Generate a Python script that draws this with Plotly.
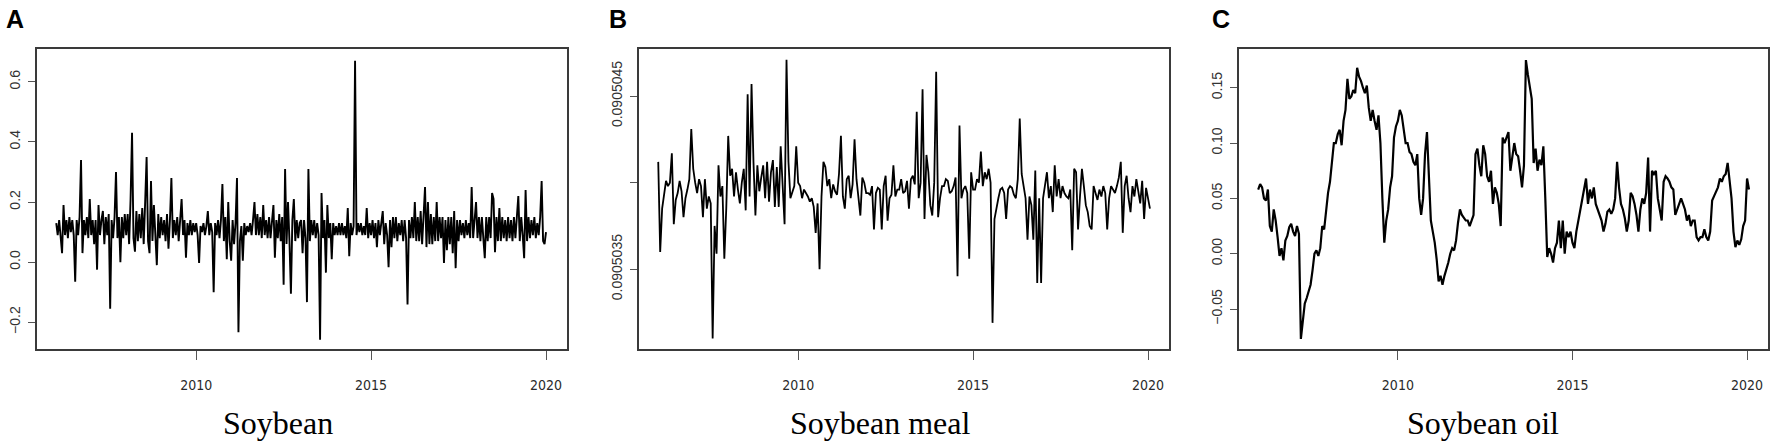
import numpy as np
import plotly.graph_objects as go

W, H = 1772, 445

def px(x):
    return x / W

def py(y):
    return 1 - y / H

# Soybean, 24 obs per year starting 2006 (one line per year)
soybean = [
    0.13, 0.09, 0.14, 0.08, 0.03, 0.19, 0.09, 0.14, 0.08, 0.15, 0.10, 0.14, 0.09, -0.065, 0.14, 0.09, 0.15, 0.34, 0.03, 0.14, 0.09, 0.15, 0.08, 0.21,
    0.09, 0.14, 0.06, 0.14, -0.025, 0.19, 0.09, 0.14, 0.17, 0.06, 0.15, 0.09, 0.16, -0.155, 0.14, 0.08, 0.15, 0.30, 0.08, 0.15, 0.00, 0.15, 0.08, 0.16,
    0.09, 0.16, 0.06, 0.21, 0.43, 0.08, 0.035, 0.17, 0.07, 0.16, 0.08, 0.18, 0.06, 0.20, 0.35, 0.07, 0.03, 0.27, 0.07, 0.19, 0.08, -0.01, 0.16, 0.08,
    0.15, 0.09, 0.14, 0.07, 0.16, 0.045, 0.14, 0.28, 0.08, 0.14, 0.09, 0.15, 0.07, 0.13, 0.21, 0.09, 0.14, 0.015, 0.13, 0.09, 0.14, 0.09, 0.13, 0.10,
    0.13, 0.09, -0.003, 0.12, 0.10, 0.13, 0.09, 0.12, 0.17, 0.09, 0.13, 0.10, -0.10, 0.13, 0.09, 0.14, 0.08, 0.14, 0.26, 0.07, 0.15, 0.01, 0.20, 0.07,
    0.005, 0.14, 0.06, 0.13, 0.28, -0.233, 0.07, 0.12, 0.005, 0.13, 0.09, 0.12, 0.10, 0.13, 0.09, 0.14, 0.20, 0.09, 0.16, 0.09, 0.15, 0.08, 0.19, 0.09,
    0.14, 0.08, 0.15, 0.08, 0.14, 0.19, 0.015, 0.14, 0.08, 0.16, 0.07, 0.15, -0.075, 0.31, 0.06, 0.20, 0.07, -0.105, 0.14, 0.21, 0.07, 0.14, 0.08, 0.13,
    0.14, 0.03, 0.14, 0.08, -0.133, 0.31, 0.07, 0.14, 0.09, 0.14, 0.08, 0.13, 0.09, -0.258, 0.23, 0.08, 0.14, -0.035, 0.19, 0.08, 0.13, 0.01, 0.13, 0.09,
    0.12, 0.09, 0.13, 0.09, 0.13, 0.09, 0.12, 0.08, 0.18, 0.02, 0.13, 0.09, 0.12, 0.67, 0.09, 0.13, 0.10, 0.13, 0.09, 0.12, 0.09, 0.18, 0.08, 0.13,
    0.09, 0.14, 0.08, 0.13, 0.05, 0.14, 0.09, 0.14, 0.17, 0.06, 0.13, 0.09, -0.017, 0.14, 0.05, 0.15, 0.08, 0.15, 0.07, 0.13, 0.09, 0.14, 0.07, 0.14,
    0.08, -0.141, 0.14, 0.08, 0.15, 0.08, 0.20, 0.07, 0.15, 0.07, 0.17, 0.06, 0.18, 0.25, 0.05, 0.20, 0.06, 0.16, 0.06, 0.15, 0.07, 0.20, 0.07, 0.15,
    0.08, 0.15, -0.003, 0.14, 0.04, 0.15, 0.06, 0.15, 0.03, 0.17, -0.02, 0.14, 0.07, 0.14, 0.09, 0.13, 0.08, 0.14, 0.09, 0.13, 0.08, 0.25, 0.08, 0.14,
    0.20, 0.08, 0.15, 0.07, 0.15, 0.08, 0.013, 0.15, 0.07, 0.15, 0.08, 0.23, 0.21, 0.033, 0.15, 0.07, 0.18, 0.07, 0.15, 0.08, 0.14, 0.07, 0.15, 0.08,
    0.14, 0.07, 0.15, 0.08, 0.14, 0.22, 0.07, 0.15, 0.09, 0.013, 0.24, 0.07, 0.15, 0.08, 0.14, 0.09, 0.15, 0.08, 0.13, 0.09, 0.15, 0.27, 0.07, 0.06,
    0.10,
]

# Soybean meal, 18 obs per year starting 2006,
# read as offsets from 0.0905040 in units of 1e-7
meal_dev = [
    1.2, -4.0, -1.5, -0.8, 0.1, -0.2, 0.0, 1.7, -2.4, -1.0, -0.6, 0.1, -0.5, -2.0, -0.9, -0.4, 0.2, 3.1,
    0.8, 0.0, -0.6, 0.2, -0.2, -2.0, 0.2, -1.5, -0.8, -1.2, -9.0, -2.5, -4.1, 1.0, -0.8, -0.2, -4.4, -1.5,
    2.7, 0.4, 0.8, -0.8, 0.6, -0.4, -1.2, 0.0, 0.8, -1.6, 5.1, -0.8, 5.7, 1.2, -1.9, 1.0, -0.5, 0.3,
    1.0, -0.9, 1.2, -1.1, 0.6, 1.3, -1.4, 0.9, -1.4, 2.1, -0.3, -2.4, 7.1, 1.2, -0.9, -0.5, -0.2, 2.1,
    0.0, -0.2, -0.9, -0.4, -0.6, -0.8, -1.1, -0.9, -1.4, -2.9, -1.2, -5.0, -0.8, 1.2, 0.9, -0.2, 0.2, -0.9,
    -0.1, -0.5, -0.7, 0.5, 2.7, -0.8, -1.5, 0.2, 0.4, -0.9, -0.1, 2.5, 0.2, -0.9, -1.9, 0.3, 0.0, -0.6,
    -0.6, -0.7, -0.2, -2.7, -0.6, -0.3, -0.4, -2.7, -0.2, 0.4, -2.2, -0.9, -0.7, 1.0, -0.8, -0.4, -0.4, 0.2,
    -0.6, -0.5, 0.1, -1.5, 0.2, 0.4, -0.1, 4.1, -0.9, 0.0, 5.4, -2.1, 1.6, 0.6, -1.3, -1.9, 0.0, 6.4,
    -2.0, -0.9, -0.2, -0.2, 0.2, 0.1, -0.6, -0.5, -0.2, 0.3, -5.4, 3.3, -0.9, -0.4, -0.2, -0.6, -4.4, 0.6,
    -0.4, -0.4, 0.2, 0.0, 1.8, -0.2, 0.6, 0.2, 0.8, 0.0, -8.1, -2.1, -1.4, -0.9, -0.4, -0.3, -0.6, -2.1,
    -0.4, -0.2, -0.3, -0.7, -0.9, 0.2, 3.7, 0.5, -0.2, -0.9, -3.3, -0.8, -1.3, -3.3, 0.7, -5.8, -0.9, -5.8,
    -0.9, -0.2, 0.6, -0.9, -0.2, -1.7, 1.0, -0.8, 0.2, -0.9, -0.2, -0.6, -0.8, -0.9, -0.4, -3.9, 0.8, 0.6,
    -2.7, -0.8, 0.8, -0.2, -1.3, -1.7, -2.5, -2.7, -0.2, -0.6, -1.0, -0.4, -0.8, -0.2, -0.6, -2.7, -0.9, -0.2,
    -0.4, -0.6, -0.2, 0.3, 1.2, -2.9, -0.2, 0.4, -0.9, -1.7, -0.2, -0.8, 0.2, -0.6, -1.2, 0.1, -2.1, -0.3,
    -0.9, -1.5,
]

# Soybean oil, 18 obs per year starting 2006
soy_oil = [
    0.058, 0.063, 0.060, 0.050, 0.048, 0.058, 0.025, 0.020, 0.040, 0.030, 0.015, -0.002, 0.005, -0.006, 0.012, 0.016, 0.024, 0.027,
    0.020, 0.016, 0.025, 0.018, -0.077, -0.060, -0.045, -0.040, -0.033, -0.028, -0.015, 0.000, 0.003, -0.002, 0.005, 0.025, 0.022, 0.040,
    0.055, 0.065, 0.080, 0.100, 0.100, 0.108, 0.112, 0.098, 0.120, 0.130, 0.158, 0.140, 0.142, 0.148, 0.145, 0.168, 0.160, 0.156,
    0.150, 0.145, 0.152, 0.132, 0.120, 0.130, 0.120, 0.112, 0.125, 0.100, 0.050, 0.010, 0.030, 0.040, 0.060, 0.070, 0.105, 0.115,
    0.120, 0.130, 0.125, 0.110, 0.100, 0.100, 0.092, 0.090, 0.083, 0.080, 0.090, 0.050, 0.035, 0.050, 0.090, 0.110, 0.070, 0.030,
    0.020, 0.010, -0.005, -0.025, -0.020, -0.028, -0.020, -0.015, -0.008, 0.000, 0.005, 0.003, 0.012, 0.028, 0.040, 0.035, 0.032, 0.030,
    0.030, 0.025, 0.030, 0.035, 0.090, 0.095, 0.080, 0.070, 0.098, 0.090, 0.070, 0.065, 0.075, 0.045, 0.060, 0.055, 0.045, 0.025,
    0.105, 0.100, 0.105, 0.110, 0.075, 0.090, 0.100, 0.090, 0.088, 0.075, 0.060, 0.080, 0.175, 0.162, 0.150, 0.140, 0.082, 0.095,
    0.075, 0.085, 0.080, 0.097, 0.050, -0.003, 0.005, 0.000, -0.008, 0.005, 0.010, 0.030, 0.005, 0.030, 0.000, 0.020, 0.015, 0.020,
    0.010, 0.005, 0.020, 0.030, 0.040, 0.050, 0.060, 0.068, 0.045, 0.058, 0.050, 0.060, 0.045, 0.040, 0.035, 0.030, 0.020, 0.027,
    0.038, 0.040, 0.036, 0.040, 0.050, 0.083, 0.060, 0.045, 0.040, 0.032, 0.020, 0.030, 0.055, 0.052, 0.045, 0.035, 0.020, 0.040,
    0.050, 0.045, 0.055, 0.087, 0.020, 0.075, 0.072, 0.075, 0.050, 0.040, 0.030, 0.065, 0.070, 0.068, 0.065, 0.060, 0.058, 0.035,
    0.040, 0.045, 0.050, 0.045, 0.040, 0.030, 0.035, 0.025, 0.030, 0.030, 0.015, 0.012, 0.015, 0.015, 0.022, 0.015, 0.012, 0.020,
    0.048, 0.052, 0.057, 0.060, 0.068, 0.065, 0.070, 0.072, 0.082, 0.068, 0.050, 0.020, 0.006, 0.012, 0.008, 0.013, 0.025, 0.030,
    0.068, 0.058,
]

year_ticks = [2010, 2015, 2020]
titles = ["Soybean", "Soybean meal", "Soybean oil"]
letters = ["A", "B", "C"]

meal = 0.0905040 + np.array(meal_dev) * 1e-7
series = [
    (2006 + np.arange(len(soybean)) / 24, soybean, 1.9),
    (2006 + np.arange(len(meal)) / 18, meal, 1.8),
    (2006 + np.arange(len(soy_oil)) / 18, soy_oil, 2.2),
]

# panel boxes in pixels (left, right); top/bottom shared
boxes = [(37, 567), (639, 1169), (1239, 1768)]
top, bottom = 49, 349
title_x = [278, 880, 1483]
letter_x = [15, 618, 1221]

y_cfg = [
    dict(range=[-0.289, 0.709], tickvals=[-0.2, 0.0, 0.2, 0.4, 0.6], tickformat=".1f"),
    dict(range=[0.0905040 - 9.61e-7, 0.0905040 + 7.72e-7],
         tickvals=[0.0905035, 0.0905040, 0.0905045],
         ticktext=["0.0905035", "", "0.0905045"]),
    dict(range=[-0.0861, 0.185], tickvals=[-0.05, 0.0, 0.05, 0.10, 0.15], tickformat=".2f"),
]

fig = go.Figure()
frame = dict(showline=True, mirror=True, linecolor="#3a3a3a", linewidth=1.5,
             showgrid=False, zeroline=False, ticks="outside", tickcolor="#555")

for i, (x, y, lw) in enumerate(series):
    n = "" if i == 0 else str(i + 1)
    fig.add_trace(go.Scatter(x=x, y=y, mode="lines", line=dict(color="black", width=lw),
                             xaxis="x" + n, yaxis="y" + n, showlegend=False, hoverinfo="skip"))
    l, r = boxes[i]
    fig.layout["xaxis" + n] = dict(
        frame, domain=[px(l), px(r)], anchor="y" + n, range=[2005.45, 2020.6],
        tickvals=year_ticks, ticklen=9, ticklabelstandoff=13,
        tickfont=dict(family="Liberation Sans Narrow, DejaVu Sans Condensed, Liberation Sans, sans-serif",
                      size=14, color="#2a2a2a"))
    fig.layout["yaxis" + n] = dict(
        frame, **y_cfg[i], domain=[py(bottom), py(top)], anchor="x" + n,
        ticklen=7, tickangle=-90, ticklabelstandoff=3,
        tickfont=dict(family="Liberation Sans, Arial, sans-serif", size=14, color="#333"))
    fig.add_annotation(x=px(title_x[i]), y=py(423), xref="paper", yref="paper",
                       text=titles[i], showarrow=False, xanchor="center", yanchor="middle",
                       font=dict(family="Liberation Serif, Times New Roman, serif", size=32, color="black"))
    fig.add_annotation(x=px(letter_x[i]), y=py(19), xref="paper", yref="paper",
                       text="<b>%s</b>" % letters[i], showarrow=False, xanchor="center", yanchor="middle",
                       font=dict(family="Liberation Sans, Arial, sans-serif", size=25, color="black"))

fig.update_layout(width=W, height=H, margin=dict(l=0, r=0, t=0, b=0),
                  paper_bgcolor="white", plot_bgcolor="white")

# drop the browser's default body margin so the figure sits at the page corner
fig.write_html("out.html", config={"displayModeBar": False},
               post_script="document.body.style.margin='0';")
